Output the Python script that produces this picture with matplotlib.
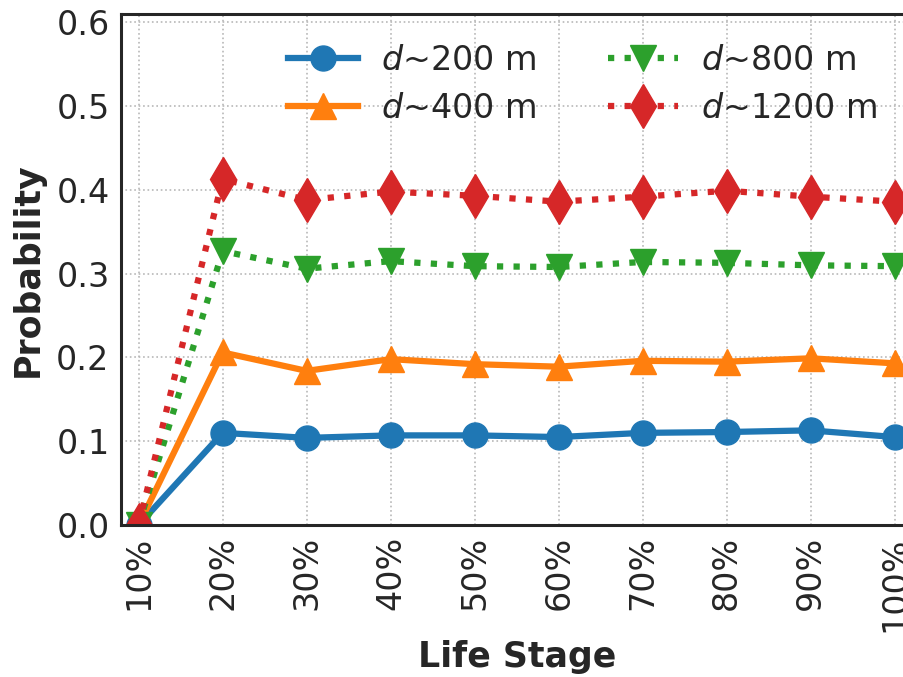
import numpy as np
import matplotlib
matplotlib.use("Agg")
import matplotlib.pyplot as plt

# --- data
stages = ["10%", "20%", "30%", "40%", "50%", "60%", "70%", "80%", "90%", "100%"]
p_200 = [0.0, 0.110, 0.104, 0.107, 0.107, 0.105, 0.110, 0.111, 0.113, 0.105]
p_400 = [0.0, 0.206, 0.184, 0.198, 0.192, 0.189, 0.196, 0.195, 0.199, 0.193]
p_800 = [0.0, 0.327, 0.306, 0.315, 0.309, 0.308, 0.314, 0.313, 0.310, 0.309]
p_1200 = [0.0, 0.413, 0.388, 0.398, 0.393, 0.386, 0.392, 0.399, 0.392, 0.386]
labels = [r"$d$~200 m", r"$d$~400 m", r"$d$~800 m", r"$d$~1200 m"]

dark = "#262626"
plt.rcParams["font.family"] = "DejaVu Sans"

fig = plt.figure(figsize=(9.04, 6.77), dpi=100)
ax = fig.add_axes([0.1335, 0.2245, 0.876, 0.7548])

x = np.arange(len(stages))
lw = 4.5
ax.plot(x, p_200, color="#1f77b4", linestyle="-", marker="o", lw=lw, ms=18, label=labels[0])
ax.plot(x, p_400, color="#ff7f0e", linestyle="-", marker="^", lw=lw, ms=19, label=labels[1])
ax.plot(x, p_800, color="#2ca02c", linestyle=":", marker="v", lw=lw, ms=19, label=labels[2])
ax.plot(x, p_1200, color="#d62728", linestyle=":", marker="d", lw=lw, ms=22, label=labels[3])

ax.set_xlim(-0.214, len(stages) - 1 + 0.214)
ax.set_ylim(0, 0.61)
ax.set_xticks(x)
ax.set_xticklabels(stages, rotation=90)
ax.set_yticks(np.arange(0, 0.61, 0.1))
ax.set_yticklabels([f"{v:.1f}" for v in np.arange(0, 0.61, 0.1)])

ax.grid(True, linestyle=":", color="#b8b8b8", lw=1.2)
ax.set_axisbelow(True)
for s in ax.spines.values():
    s.set_color(dark)
    s.set_linewidth(2.2)
ax.tick_params(axis="both", length=0, labelsize=24, colors=dark, pad=8)

ax.set_xlabel("Life Stage", fontsize=25, fontweight="bold", color=dark, labelpad=6)
ax.set_ylabel("Probability", fontsize=25, fontweight="bold", color=dark, labelpad=8)

leg = ax.legend(loc="upper right", bbox_to_anchor=(0.994, 1.0), ncol=2,
                frameon=False, fontsize=24, handlelength=2.1, handletextpad=0.7,
                columnspacing=2.15, labelspacing=0.45)
for t in leg.get_texts():
    t.set_color(dark)

fig.savefig("out.png", dpi=100)
